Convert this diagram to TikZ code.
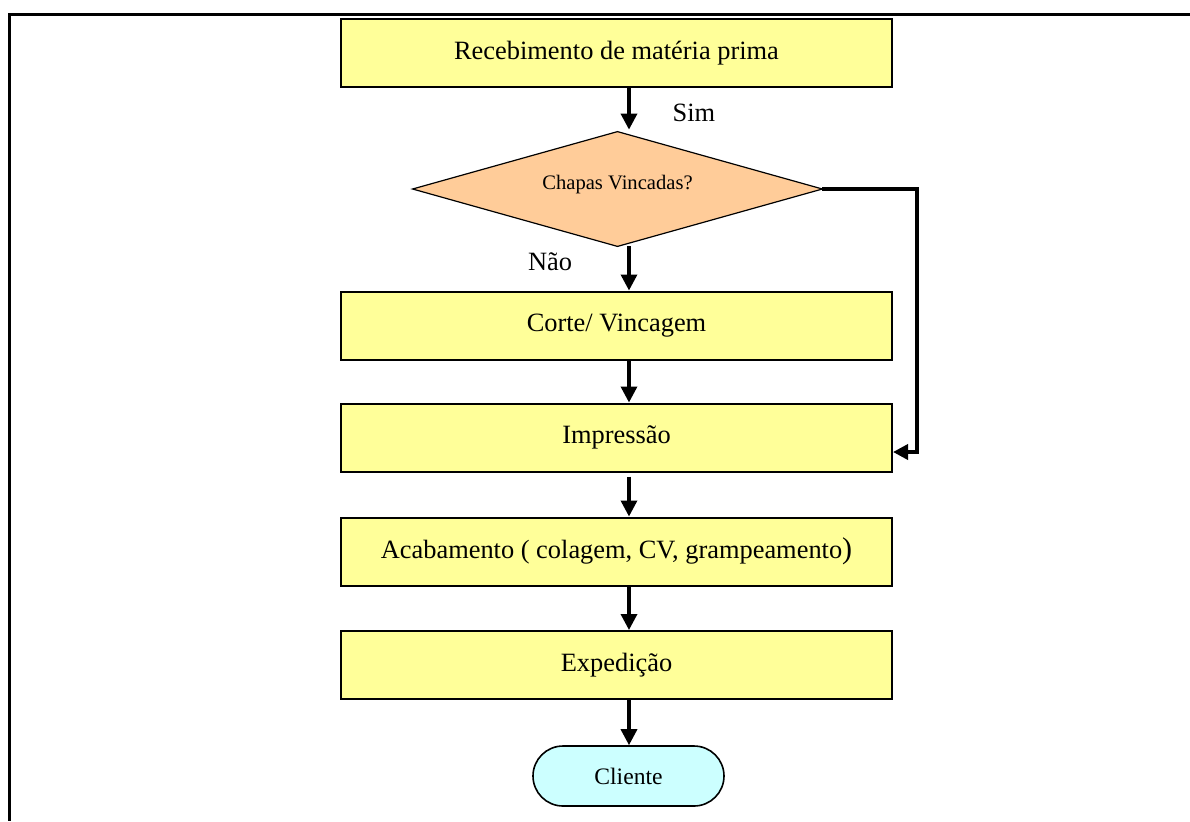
\documentclass[tikz,border=0pt]{standalone}
\usepackage{fontspec}
\setmainfont{Liberation Serif}
\usetikzlibrary{arrows.meta,shapes.misc}

\definecolor{boxyellow}{HTML}{FFFF99}
\definecolor{decisionorange}{HTML}{FFCC99}
\definecolor{endcyan}{HTML}{CCFFFF}

\tikzset{
  stepbox/.style={draw=black, line width=1pt, fill=boxyellow,
    minimum width=275.5pt, minimum height=34pt, inner sep=0pt,
    font=\fontsize{13.2}{16}\selectfont},
  decisionframe/.style={minimum width=204.5pt, minimum height=57pt, inner sep=0pt,
    font=\fontsize{10.3}{12}\selectfont},
  decisionfill/.style={draw=black, line width=0.6pt, fill=decisionorange, line join=miter},
  terminal/.style={rounded rectangle, draw=black, line width=0.8pt, fill=endcyan,
    minimum width=95.5pt, minimum height=30pt, inner sep=0pt,
    font=\fontsize{11.8}{14}\selectfont},
  flowlabel/.style={inner sep=0pt, font=\fontsize{13.2}{16}\selectfont},
  arr/.style={line width=1.7pt, -{Triangle[length=8pt,width=8pt]}},
  frame/.style={line width=1.5pt}
}

\begin{document}
\begin{tikzpicture}[x=0.5pt, y=-0.5pt]
  \useasboundingbox (0,0) rectangle (1190,821);

  % page frame (top and left rules)
  \coordinate (ftl) at (9,14);
  \coordinate (ftr) at (1190,14);
  \coordinate (fbl) at (9,821);
  \draw[frame] (ftr) -- (ftl) -- (fbl);

  % decision: a flat diamond drawn through the anchors of its frame node
  \node[decisionframe] (d) at (617.5,189) {};
  \draw[decisionfill] (d.west) -- (d.north) -- (d.east) -- (d.south) -- cycle;
  \node[decisionframe] (dq) at (617.5,185) {Chapas Vincadas?};

  % process steps
  \node[stepbox] (b1) at (616.5,53)   {Recebimento de matéria prima};
  \node[stepbox] (b2) at (616.5,325.5) {Corte/ Vincagem};
  \node[stepbox] (b3) at (616.5,437.5) {Impressão};
  \node[stepbox] (b4) at (616.5,551.5) {Acabamento ( colagem, CV, grampeamento{\fontsize{15}{16}\selectfont)}};
  \node[stepbox] (b5) at (616.5,665)  {Expedição};
  \node[terminal] (c) at (628.5,776)  {Cliente};

  % branch labels
  \node[flowlabel] (sim) at (694,113) {Sim};
  \node[flowlabel] (nao) at (550,262) {Não};

  % vertical flow line, slightly right of the box centres
  \coordinate (spine) at (629,0);
  \coordinate (bypass) at (917,0);

  \draw[arr] (b1.south -| spine) -- ([yshift=1pt]d.north -| spine);
  \draw[arr] (d.south -| spine) -- (b2.north -| spine);
  \draw[arr] (b2.south -| spine) -- (b3.north -| spine);
  \draw[arr] ([yshift=-2pt]b3.south -| spine) -- (b4.north -| spine);
  \draw[arr] (b4.south -| spine) -- (b5.north -| spine);
  \draw[arr] (b5.south -| spine) -- (c.north -| spine);

  % "Sim" bypass from the decision straight to printing
  \coordinate (bypassin) at (917,452);
  \draw[line width=1.8pt, line join=miter, -{Triangle[length=7.5pt,width=7.5pt]}]
    (d.east) -- (d.east -| bypass) -- (bypassin) -- (bypassin -| b3.east);
\end{tikzpicture}
\end{document}
